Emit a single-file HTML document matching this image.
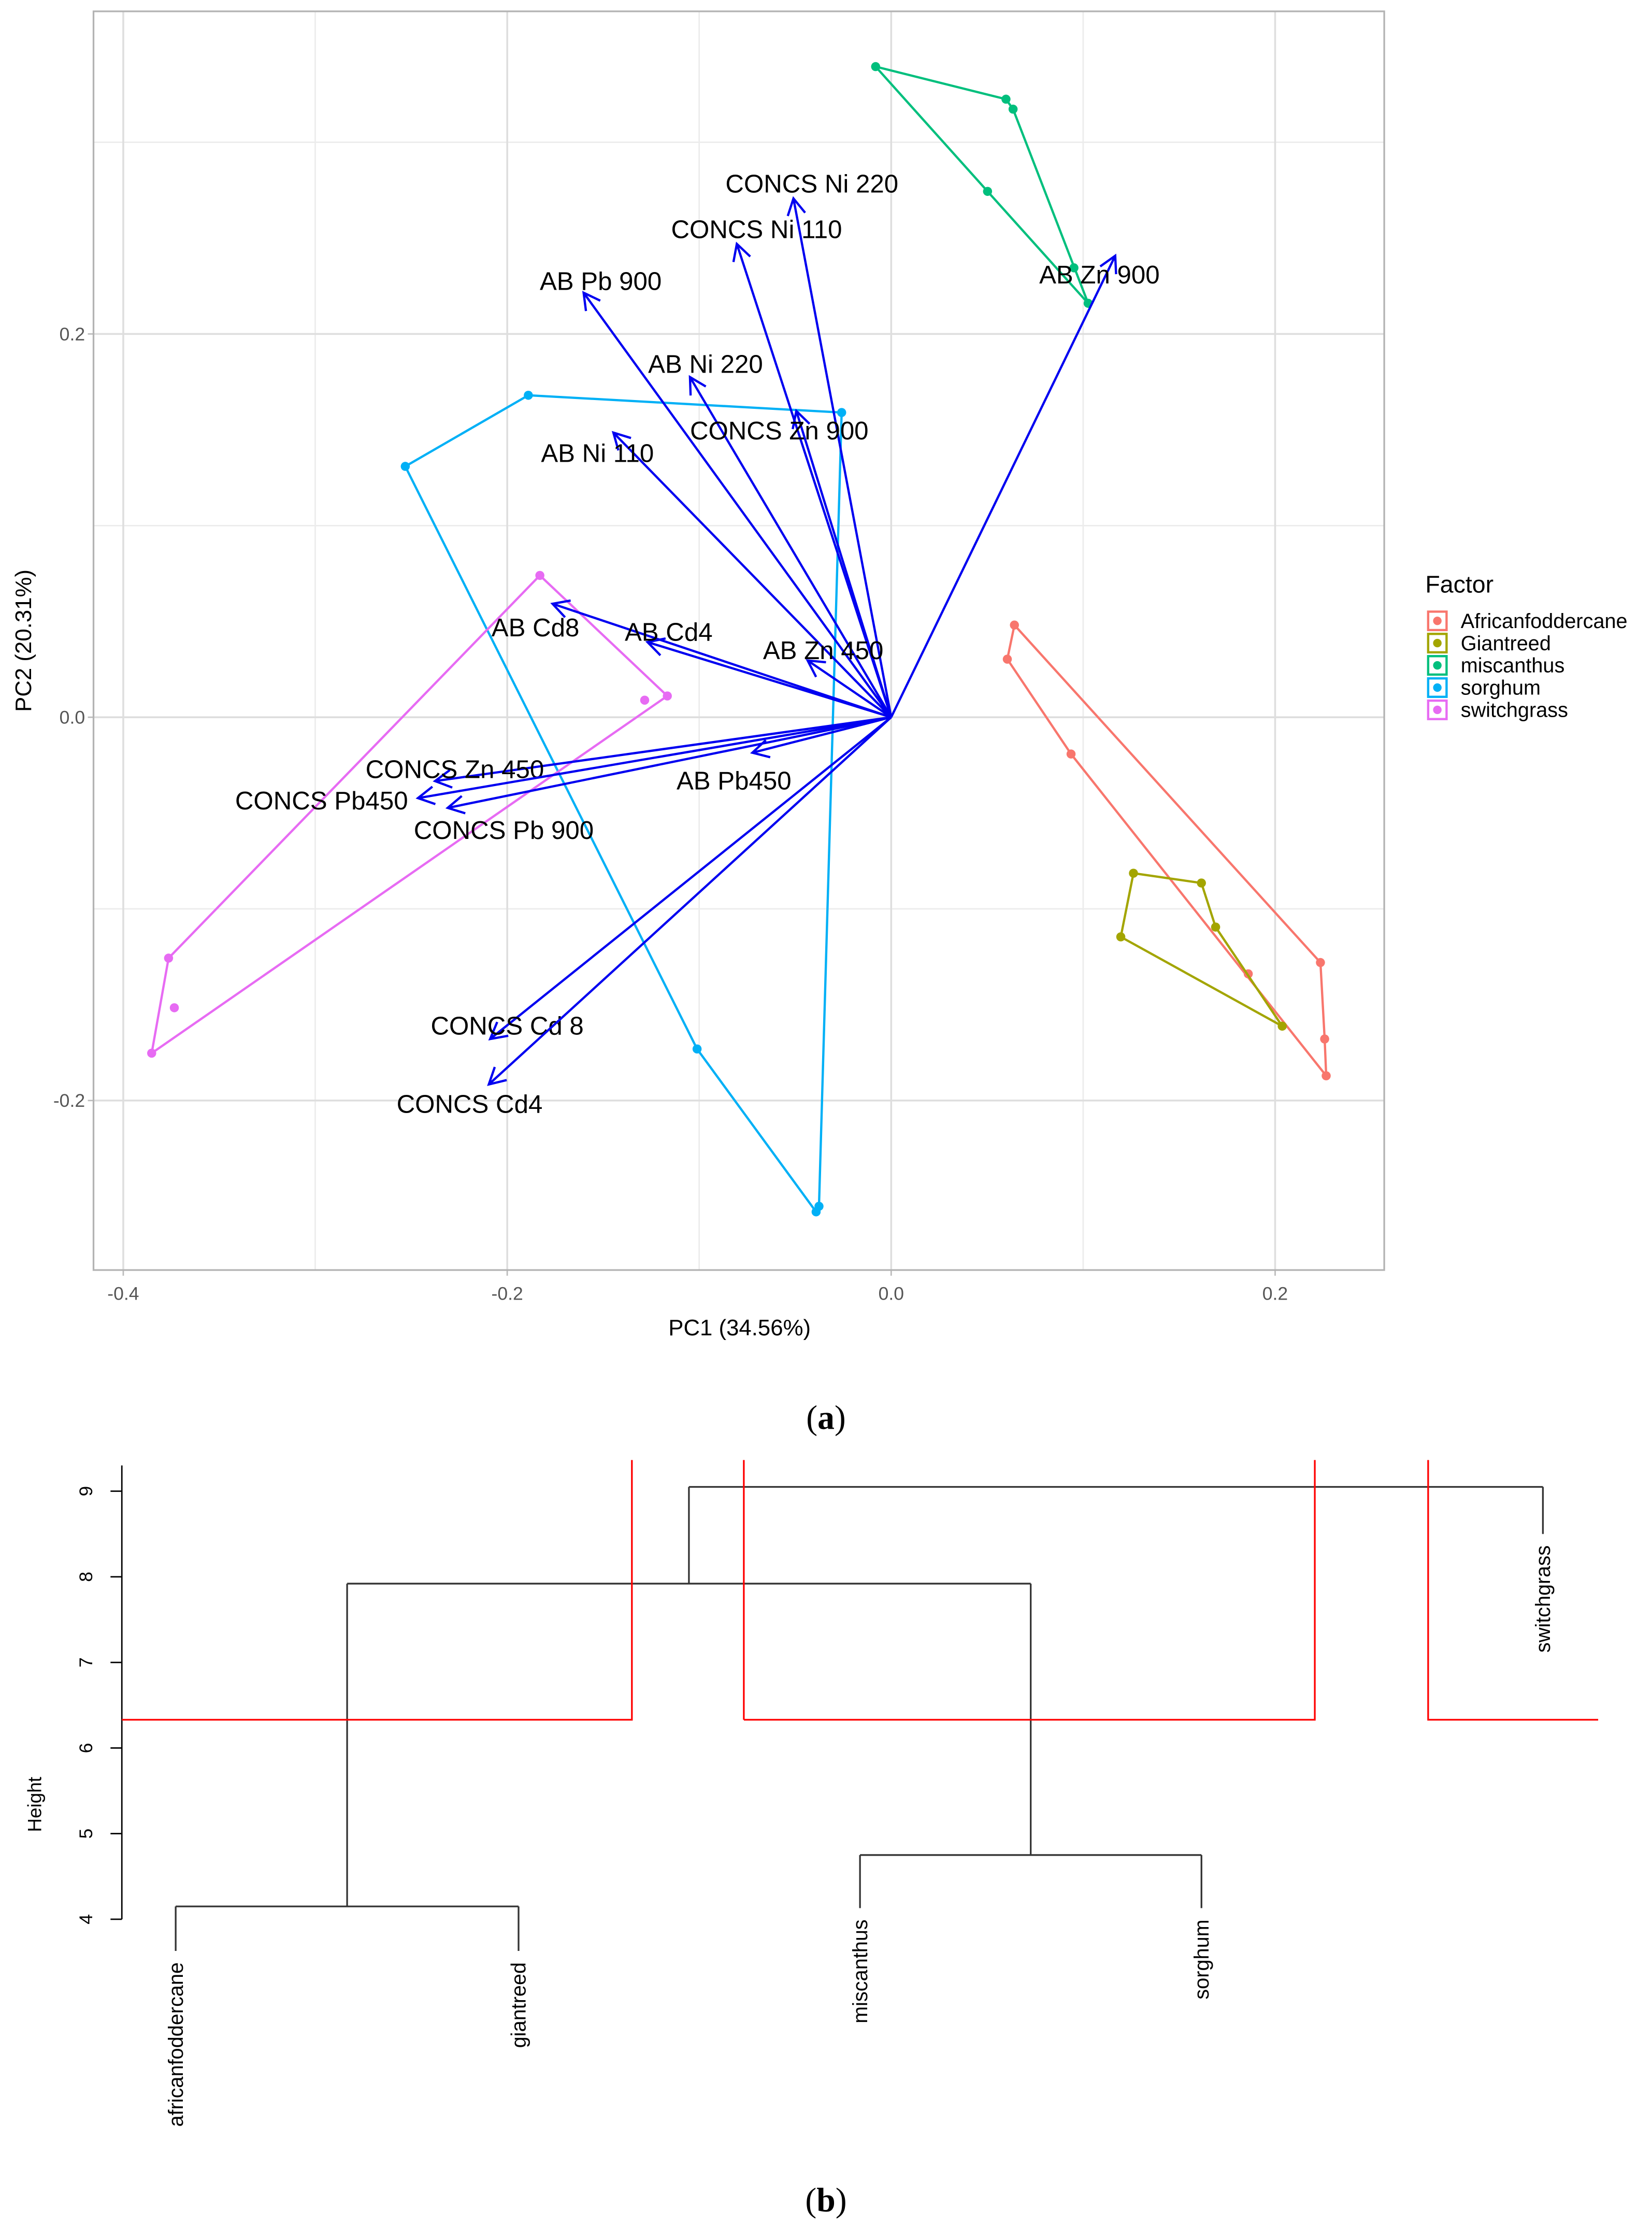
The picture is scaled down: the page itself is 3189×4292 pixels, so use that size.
<!DOCTYPE html>
<html><head><meta charset="utf-8"><style>
html,body{margin:0;padding:0;background:#fff;}
svg{display:block;font-family:"Liberation Sans",Arial,sans-serif;}
</style></head><body>
<svg id="fig" width="3189" height="4292" viewBox="0 0 1166 1569" preserveAspectRatio="none" xmlns="http://www.w3.org/2000/svg">
<g id="pa"></g>
<g id="pb"></g>
<text x="583" y="1008" text-anchor="middle" font-family="Liberation Serif,serif" font-size="24">(<tspan font-weight="bold">a</tspan>)</text>
<text x="583" y="1560" text-anchor="middle" font-family="Liberation Serif,serif" font-size="24">(<tspan font-weight="bold">b</tspan>)</text>
</svg>
<script>
// ---------- PCA data ----------
const groupNames = ["Africanfoddercane","Giantreed","miscanthus","sorghum","switchgrass"];
const groupColors = ["#F8766D","#A3A500","#00BF7D","#00B0F6","#E76BF3"];
const afcPC1 = [0.0642,0.2236,0.2258,0.2266,0.0937,0.0605,0.186];
const afcPC2 = [0.0481,-0.128,-0.1679,-0.1871,-0.0192,0.0303,-0.1339];
const giaPC1 = [0.1262,0.1616,0.169,0.2037,0.1196];
const giaPC2 = [-0.0814,-0.0865,-0.1095,-0.1612,-0.1146];
const misPC1 = [-0.0081,0.0598,0.0635,0.1026,0.0502,0.0952];
const misPC2 = [0.3395,0.3225,0.3173,0.216,0.2744,0.2345];
const sorPC1 = [-0.189,-0.0258,-0.0376,-0.0391,-0.1011,-0.2531];
const sorPC2 = [0.168,0.159,-0.2552,-0.2581,-0.1731,0.1309];
const swiPC1 = [-0.183,-0.1166,-0.3852,-0.3764,-0.1284,-0.3734];
const swiPC2 = [0.074,0.0111,-0.1753,-0.1257,0.0089,-0.1516];
const hullCounts = [6,5,5,6,4]; // first n points form hull
const varNames = ["CONCS Ni 220","CONCS Ni 110","AB Pb 900","AB Zn 900","AB Ni 220","CONCS Zn 900","AB Ni 110","AB Cd8","AB Cd4","AB Zn 450","CONCS Zn 450","CONCS Pb450","CONCS Pb 900","AB Pb450","CONCS Cd 8","CONCS Cd4"];
const loadPC1 = [-0.0509,-0.0804,-0.1602,0.1167,-0.1048,-0.0494,-0.1447,-0.1764,-0.1269,-0.0435,-0.2376,-0.2465,-0.2310,-0.0723,-0.2089,-0.2096];
const loadPC2 = [0.2707,0.2470,0.2215,0.2408,0.1775,0.1598,0.1485,0.0592,0.0392,0.0296,-0.0333,-0.0422,-0.0473,-0.0185,-0.1679,-0.1916];
const labPC1 = [-0.0413,-0.0701,-0.1513,0.1085,-0.0967,-0.0583,-0.1530,-0.1853,-0.1159,-0.0354,-0.2273,-0.2967,-0.2018,-0.0819,-0.2000,-0.2196];
const labPC2 = [0.2782,0.2545,0.2274,0.2308,0.1842,0.1494,0.1376,0.0466,0.0444,0.0348,-0.0273,-0.0436,-0.0591,-0.0333,-0.1612,-0.2020];
const xTicks = [-0.4,-0.2,0.0,0.2];
const xTickLabels = ["-0.4","-0.2","0.0","0.2"];
const xMinor = [-0.3,-0.1,0.1];
const yTicks = [-0.2,0.0,0.2];
const yTickLabels = ["-0.2","0.0","0.2"];
const yMinor = [-0.1,0.1,0.3];
// ---------- Dendrogram data ----------
const leafNames = ["africanfoddercane","giantreed","miscanthus","sorghum","switchgrass"];
const mergeHeights = [4.15,4.75,7.92,9.05];
const hTicks = [4,5,6,7,8,9];
const hTickLabels = ["4","5","6","7","8","9"];
const leafHang = [0.52,0.52,0.62,0.62,0.55];
const cutHeight = 6.33;

const NS="http://www.w3.org/2000/svg";
function mk(parent,tag,attrs){const e=document.createElementNS(NS,tag);for(const k in attrs)e.setAttribute(k,attrs[k]);parent.appendChild(e);return e;}
const pa=document.getElementById('pa');
const L=66,R=977,T=8,B=896;
const sx=v=>629+v*1355;
const sy=v=>506-v*1352;
let e;
e=mk(pa,'rect',{x:L,y:T,width:R-L,height:B-T,fill:'#fff'});


xMinor.forEach(v=>{e=mk(pa,'line',{x1:sx(v),x2:sx(v),y1:T,y2:B,stroke:'#ececec','stroke-width':1});

});
yMinor.forEach(v=>{e=mk(pa,'line',{x1:L,x2:R,y1:sy(v),y2:sy(v),stroke:'#ececec','stroke-width':1});

});
xTicks.forEach((v,i)=>{e=mk(pa,'line',{x1:sx(v),x2:sx(v),y1:T,y2:B,stroke:'#dedede','stroke-width':1.3});


e=mk(pa,'line',{x1:sx(v),x2:sx(v),y1:B,y2:B+4,stroke:'#bbb'});


e=mk(pa,'text',{x:sx(v),y:B+21,'text-anchor':'middle','font-size':13,fill:'#555'});e.textContent=xTickLabels[i];

});
yTicks.forEach((v,i)=>{e=mk(pa,'line',{x1:L,x2:R,y1:sy(v),y2:sy(v),stroke:'#dedede','stroke-width':1.3});


e=mk(pa,'line',{x1:L-4,x2:L,y1:sy(v),y2:sy(v),stroke:'#bbb'});


e=mk(pa,'text',{x:L-6,y:sy(v)+4.5,'text-anchor':'end','font-size':13,fill:'#555'});e.textContent=yTickLabels[i];

});
e=mk(pa,'rect',{x:L,y:T,width:R-L,height:B-T,fill:'none',stroke:'#b3b3b3','stroke-width':1.2});


const gx=[afcPC1,giaPC1,misPC1,sorPC1,swiPC1], gy=[afcPC2,giaPC2,misPC2,sorPC2,swiPC2];
gx.forEach((xs,g)=>{
  const n=hullCounts[g];
  const pts=xs.slice(0,n).map((x,i)=>sx(x)+','+sy(gy[g][i])).join(' ');
  e=mk(pa,'polygon',{points:pts,fill:'none',stroke:groupColors[g],'stroke-width':1.6});
  
  
  xs.forEach((x,i)=>{e=mk(pa,'circle',{cx:sx(x),cy:sy(gy[g][i]),r:3.2,fill:groupColors[g]});
  
  });
});
varNames.forEach((nm,i)=>{
  const x0=sx(0),y0=sy(0),x1=sx(loadPC1[i]),y1=sy(loadPC2[i]);
  const a=Math.atan2(y1-y0,x1-x0),h=13,w=0.5;
  const p1=(x1-h*Math.cos(a-w))+','+(y1-h*Math.sin(a-w)), p2=(x1-h*Math.cos(a+w))+','+(y1-h*Math.sin(a+w));
  e=mk(pa,'path',{d:`M${x0},${y0}L${x1},${y1}M${p1}L${x1},${y1}L${p2}`,fill:'none',stroke:'#0000F0','stroke-width':1.6});
  
  
  e=mk(pa,'text',{x:sx(labPC1[i]),y:sy(labPC2[i])+6,'text-anchor':'middle','font-size':18});e.textContent=nm;
  
  
});
e=mk(pa,'text',{x:522,y:942,'text-anchor':'middle','font-size':16});e.textContent='PC1 (34.56%)';


e=mk(pa,'text',{x:22,y:452,'text-anchor':'middle','font-size':16,transform:'rotate(-90 22 452)'});e.textContent='PC2 (20.31%)';


e=mk(pa,'text',{x:1006,y:418,'font-size':17});e.textContent='Factor';


groupNames.forEach((nm,i)=>{const y=438+i*15.7;
  e=mk(pa,'rect',{x:1008,y:y-6.5,width:13,height:13,fill:'#fff',stroke:groupColors[i],'stroke-width':1.6});
  
  
  e=mk(pa,'circle',{cx:1014.5,cy:y,r:3,fill:groupColors[i]});
  
  
  e=mk(pa,'text',{x:1031,y:y+5,'font-size':14.5});e.textContent=nm;
  
  
});
// ---------- Dendrogram ----------
const pb=document.getElementById('pb');
const hy=v=>1354-(v-4)*60.4;
const leafX=[124,366,607,848,1089];
e=mk(pb,'line',{x1:86,x2:86,y1:hy(9.3),y2:hy(4),stroke:'#000','stroke-width':1});


hTicks.forEach((v,i)=>{e=mk(pb,'line',{x1:78,x2:86,y1:hy(v),y2:hy(v),stroke:'#000'});


e=mk(pb,'text',{x:65,y:hy(v),'text-anchor':'middle','font-size':13,transform:`rotate(-90 65 ${hy(v)})`});e.textContent=hTickLabels[i];

});
e=mk(pb,'text',{x:29,y:1273,'text-anchor':'middle','font-size':13.5,transform:'rotate(-90 29 1273)'});e.textContent='Height';


const m1x=(leafX[0]+leafX[1])/2, m2x=(leafX[2]+leafX[3])/2, m3x=(m1x+m2x)/2;
const segs=[
 [leafX[0],mergeHeights[0],leafX[1],mergeHeights[0]],
 [leafX[2],mergeHeights[1],leafX[3],mergeHeights[1]],
 [m1x,mergeHeights[0],m1x,mergeHeights[2]],[m2x,mergeHeights[1],m2x,mergeHeights[2]],[m1x,mergeHeights[2],m2x,mergeHeights[2]],
 [m3x,mergeHeights[2],m3x,mergeHeights[3]],[m3x,mergeHeights[3],leafX[4],mergeHeights[3]]];
const parentH=[mergeHeights[0],mergeHeights[0],mergeHeights[1],mergeHeights[1],mergeHeights[3]];
let d='';
segs.forEach(s=>{d+=`M${s[0]},${hy(s[1])}L${s[2]},${hy(s[3])}`;});
leafX.forEach((x,i)=>{d+=`M${x},${hy(parentH[i])}L${x},${hy(parentH[i]-leafHang[i])}`;});
e=mk(pb,'path',{d:d,fill:'none',stroke:'#333','stroke-width':1.2});


leafNames.forEach((nm,i)=>{const y=hy(parentH[i]-leafHang[i])+8;
 e=mk(pb,'text',{x:leafX[i]+5,y:y,'text-anchor':'end','font-size':14.5,transform:`rotate(-90 ${leafX[i]+5} ${y})`});e.textContent=nm;
 
 });
const rects=[[86,446],[525,928],[1008,1128]];
rects.forEach((r,i)=>{
 const yb=hy(cutHeight);
 const dd = i===2 ? `M${r[0]},1030L${r[0]},${yb}L${r[1]},${yb}` : `M${r[0]},${yb}L${r[1]},${yb}L${r[1]},1030` + (i===1?`M${r[0]},1030L${r[0]},${yb}`:'');
 e=mk(pb,'path',{d:dd,fill:'none',stroke:'#FF0000','stroke-width':1.2});
 
 
});
</script>
</body></html>
